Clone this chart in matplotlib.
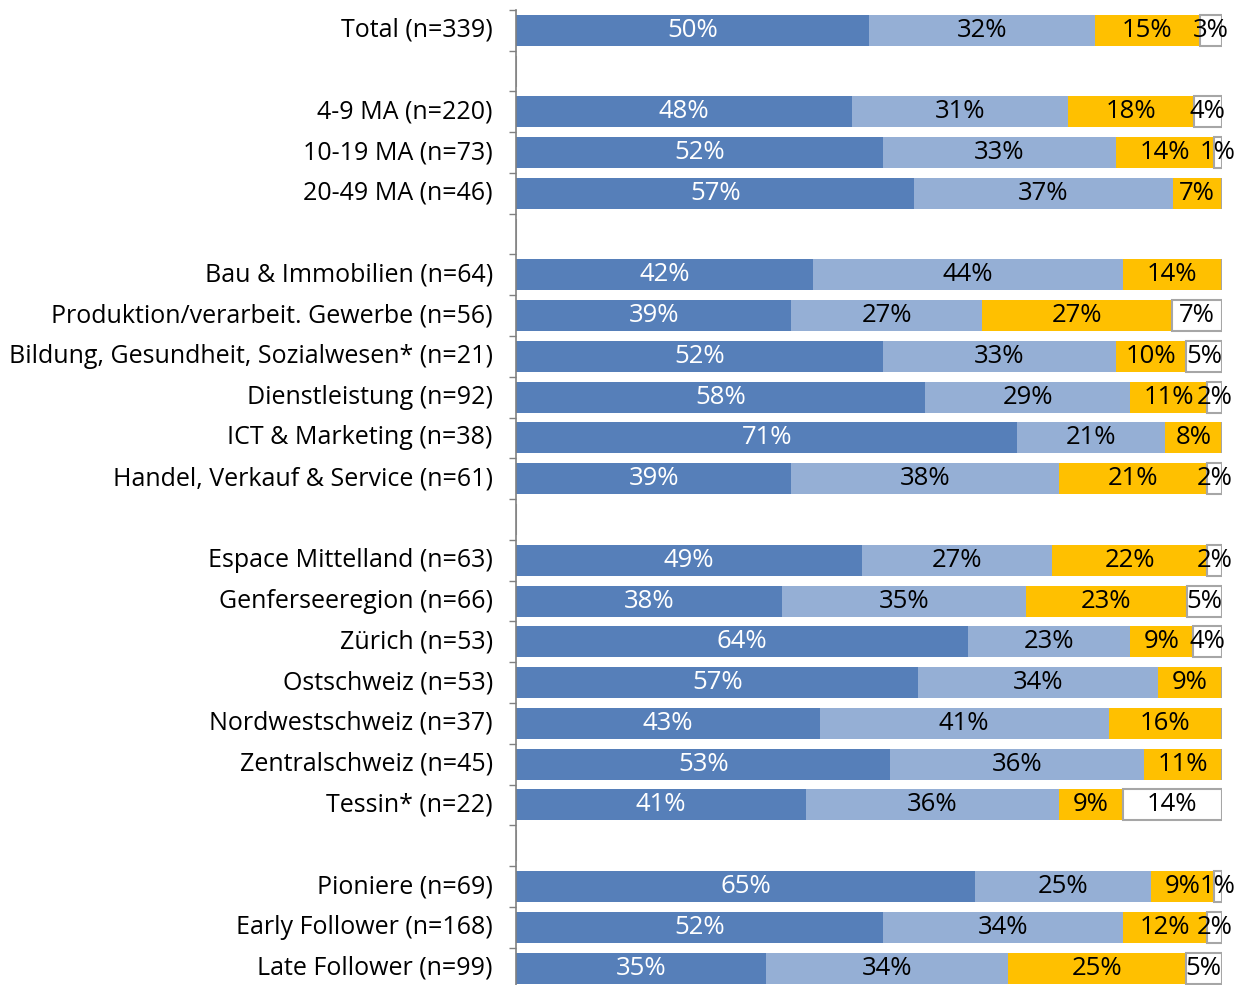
import matplotlib.pyplot as plt
import numpy as np

plt.rcParams['font.family'] = ['Open Sans', 'DejaVu Sans']

# categories (None = empty spacer row)
categories = [
    'Total (n=339)', None,
    '4-9 MA (n=220)', '10-19 MA (n=73)', '20-49 MA (n=46)', None,
    'Bau & Immobilien (n=64)', 'Produktion/verarbeit. Gewerbe (n=56)',
    'Bildung, Gesundheit, Sozialwesen* (n=21)', 'Dienstleistung (n=92)',
    'ICT & Marketing (n=38)', 'Handel, Verkauf & Service (n=61)', None,
    'Espace Mittelland (n=63)', 'Genferseeregion (n=66)', 'Zürich (n=53)',
    'Ostschweiz (n=53)', 'Nordwestschweiz (n=37)', 'Zentralschweiz (n=45)',
    'Tessin* (n=22)', None,
    'Pioniere (n=69)', 'Early Follower (n=168)', 'Late Follower (n=99)',
]

# percentage values per segment (0 for spacer rows)
seg1 = [50, 0, 48, 52, 57, 0, 42, 39, 52, 58, 71, 39, 0, 49, 38, 64, 57, 43, 53, 41, 0, 65, 52, 35]
seg2 = [32, 0, 31, 33, 37, 0, 44, 27, 33, 29, 21, 38, 0, 27, 35, 23, 34, 41, 36, 36, 0, 25, 34, 34]
seg3 = [15, 0, 18, 14, 7, 0, 14, 27, 10, 11, 8, 21, 0, 22, 23, 9, 9, 16, 11, 9, 0, 9, 12, 25]
seg4 = [3, 0, 4, 1, 0, 0, 0, 7, 5, 2, 0, 2, 0, 2, 5, 4, 0, 0, 0, 14, 0, 1, 2, 5]

colors = ['#567FB9', '#95AFD5', '#FFC000', '#FFFFFF']
text_colors = ['white', 'black', 'black', 'black']

fig = plt.figure(figsize=(12.49, 9.85), dpi=100)
ax = fig.add_axes([0.4135, -0.0035, 0.5645, 0.9935])

data = np.array([seg1, seg2, seg3, seg4], dtype=float)
totals = data.sum(axis=0)
totals[totals == 0] = 1
widths = data / totals * 100

y = np.arange(len(categories))
left = np.zeros(len(categories))
for i in range(4):
    if i == 3:
        ax.barh(y, widths[i], left=left, height=0.76, color=colors[i],
                edgecolor='#A6A6A6', linewidth=1.5)
    else:
        ax.barh(y, widths[i], left=left, height=0.76, color=colors[i])
    for j in range(len(categories)):
        if data[i, j] > 0:
            ax.text(left[j] + widths[i, j] / 2, y[j], f'{int(data[i, j])}%',
                    ha='center', va='center', color=text_colors[i], fontsize=18.5)
    left += widths[i]

ax.set_xlim(0, 100)
ax.set_ylim(len(categories) - 0.5, -0.5)
ax.set_yticks(y)
ax.set_yticklabels([c if c else '' for c in categories], fontsize=18)
for lbl in ax.get_yticklabels():
    lbl.set_va('center')
ax.tick_params(axis='y', which='major', length=0, pad=17)
ax.set_yticks(np.arange(-0.5, len(categories)), minor=True)
ax.tick_params(axis='y', which='minor', length=5, color='#808080', width=1)
ax.set_xticks([])
for s in ['top', 'right', 'bottom']:
    ax.spines[s].set_visible(False)
ax.spines['left'].set_color('#808080')
ax.spines['left'].set_linewidth(1.2)

fig.savefig('out.png', dpi=100)
